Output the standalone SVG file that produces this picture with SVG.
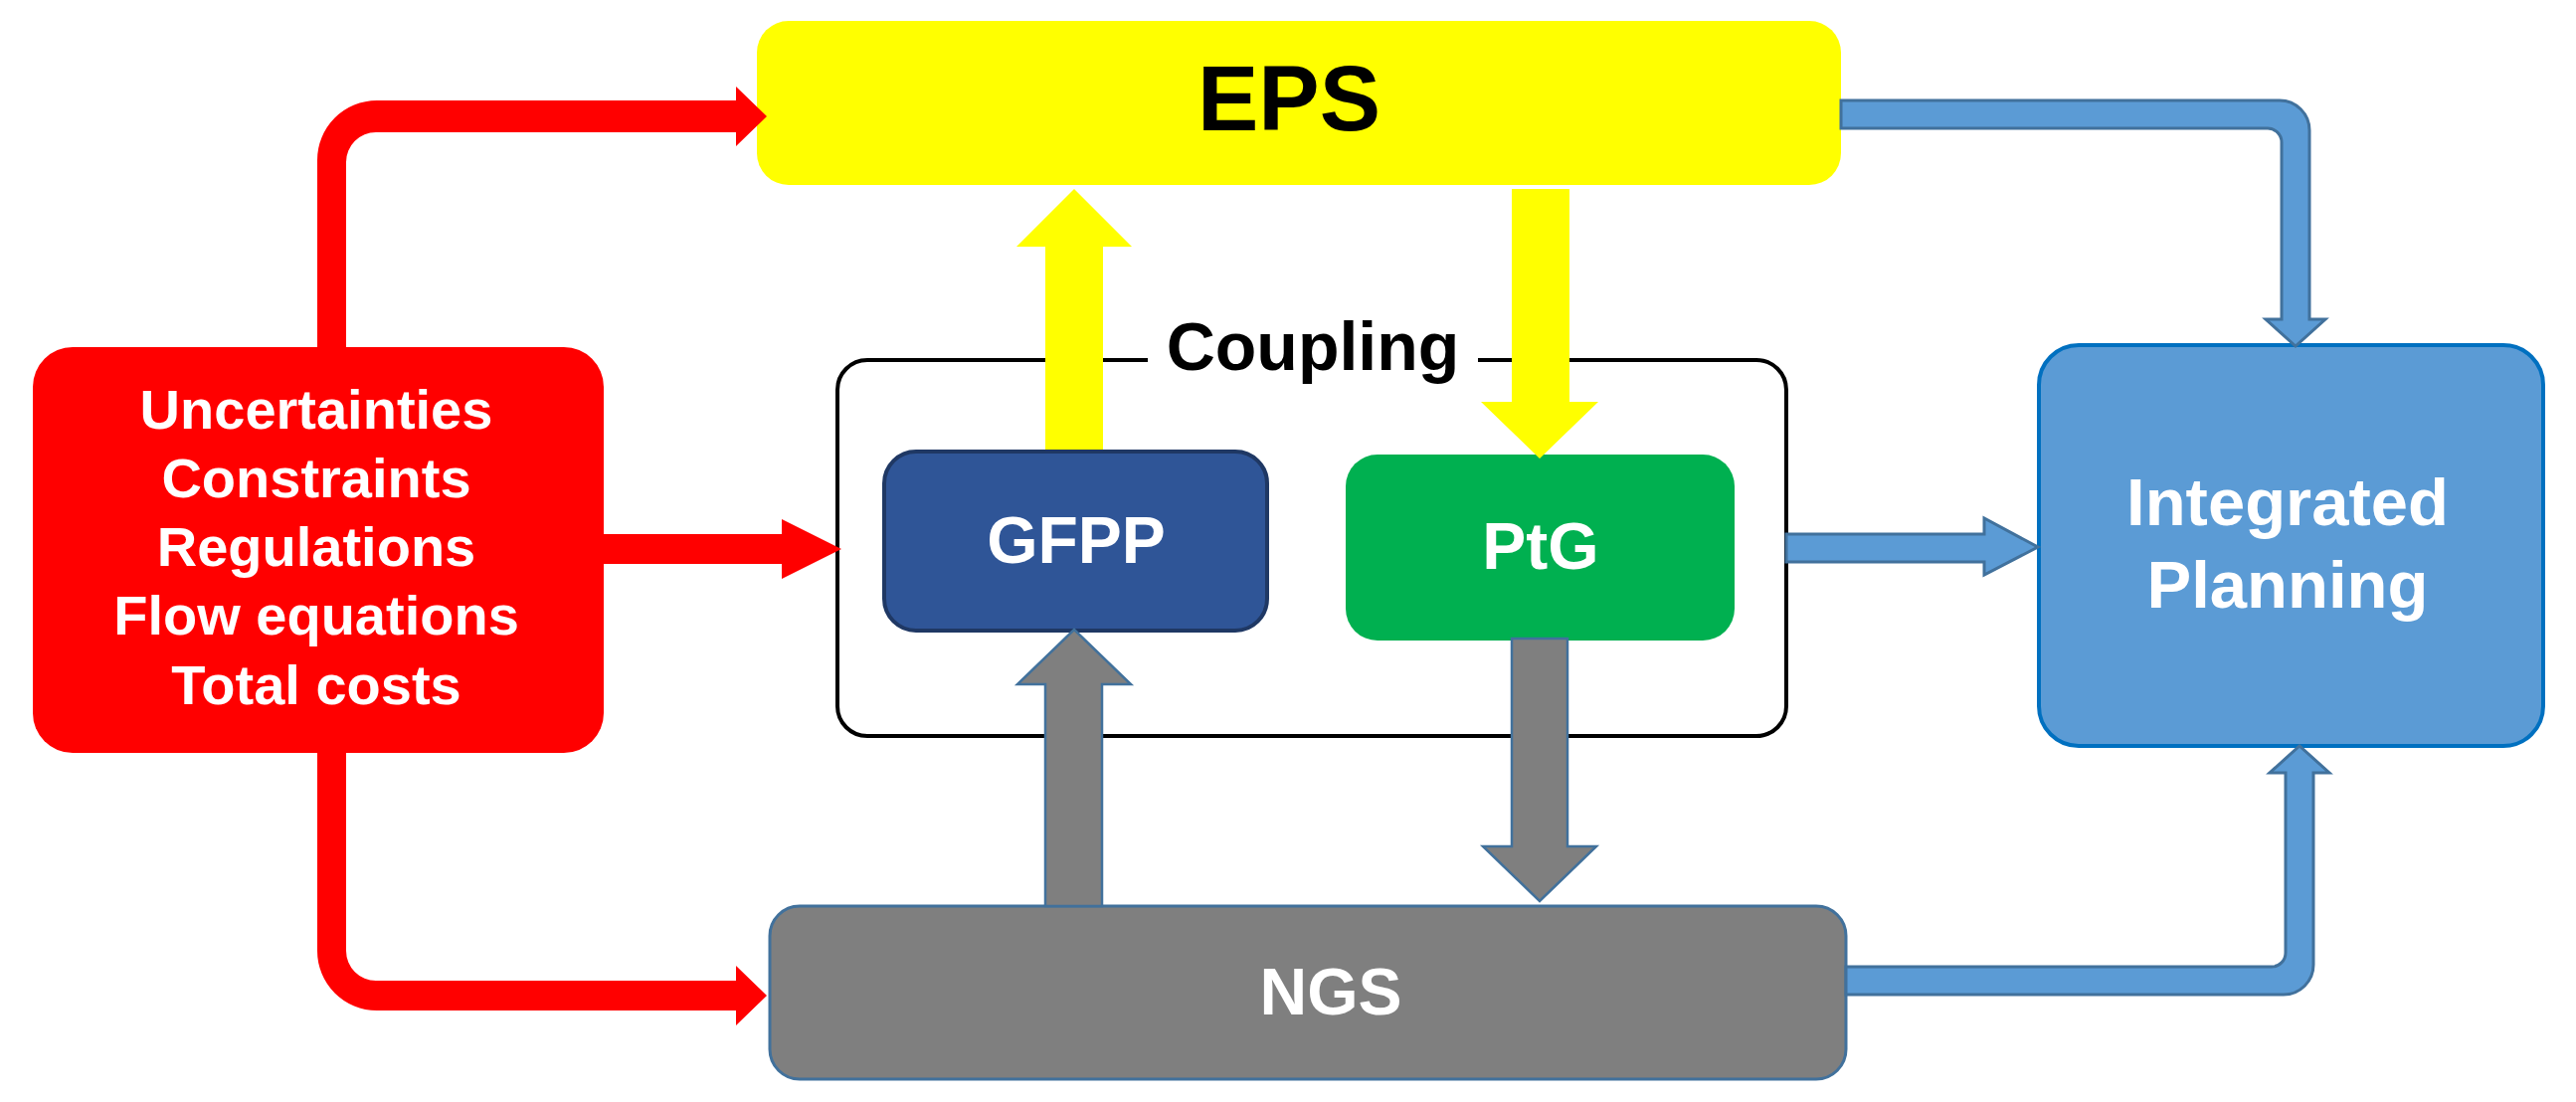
<svg xmlns="http://www.w3.org/2000/svg" width="2590" height="1108" viewBox="0 0 2590 1108">
<style>
text{font-family:"Liberation Sans",Arial,sans-serif;font-weight:bold;text-anchor:middle}
.w{fill:#fff}
.red{fill:#FF0000}
.yel{fill:#FFFF00}
.gry{fill:#7F7F7F;stroke:#41719C;stroke-width:2.5}
.blu{fill:#5B9BD5;stroke:#41719C;stroke-width:3}
</style>
<rect width="2590" height="1108" fill="#fff"/>
<g id="EPS"><rect x="761" y="21" width="1090" height="165" rx="32" fill="#FFFF00"/><text x="1296" y="131" font-size="92" fill="#000">EPS</text></g>
<g id="inputs"><rect x="33" y="349" width="574" height="408" rx="40" fill="#FF0000"/>
<text class="w" x="318" y="431" font-size="56">Uncertainties</text>
<text class="w" x="318" y="500" font-size="56">Constraints</text>
<text class="w" x="318" y="569" font-size="56">Regulations</text>
<text class="w" x="318" y="638" font-size="56">Flow equations</text>
<text class="w" x="318" y="708" font-size="56">Total costs</text></g>
<g id="coupling"><path d="M1154,362 H872 A30,30 0 0 0 842,392 V710 A30,30 0 0 0 872,740 H1766 A30,30 0 0 0 1796,710 V392 A30,30 0 0 0 1766,362 H1486" fill="none" stroke="#000" stroke-width="4"/><text x="1320" y="372" font-size="68" fill="#000">Coupling</text></g>
<g id="GFPP"><rect x="889" y="454" width="385" height="180" rx="32" fill="#2F5597" stroke="#1F3864" stroke-width="4"/><text class="w" x="1082" y="566" font-size="66">GFPP</text></g>
<g id="PtG"><rect x="1353" y="457" width="391" height="187" rx="32" fill="#00B050"/><text class="w" x="1549" y="572" font-size="66">PtG</text></g>
<g id="NGS"><rect x="774" y="911" width="1082" height="174" rx="30" fill="#7F7F7F" stroke="#41719C" stroke-width="3"/><text class="w" x="1338" y="1020" font-size="66">NGS</text></g>
<g id="IP"><rect x="2050" y="347" width="507" height="403" rx="40" fill="#5B9BD5" stroke="#0070C0" stroke-width="4"/><text class="w" x="2300" y="528" font-size="67">Integrated</text><text class="w" x="2300" y="611" font-size="67">Planning</text></g>
<g id="connectors">
<path class="red" d="M319,349 V161 A60,60 0 0 1 379,101 H740 V87 L771,117 L740,147 V133 H378 A30,30 0 0 0 348,163 V349 Z"/>
<path class="red" d="M319,757 V956 A60,60 0 0 0 379,1016 H740 V1031 L771,1001 L740,971 V986 H378 A30,30 0 0 1 348,956 V757 Z"/>
<path class="red" d="M607,537 H786 V522 L846,552 L786,582 V567 H607 Z"/>
<path class="yel" d="M1051,452 V248 H1022 L1080,190 L1138,248 H1109 V452 Z"/>
<path class="yel" d="M1520,190 V404 H1489 L1548,461 L1607,404 H1578 V190 Z"/>
<path class="gry" d="M1051,911 V688 H1023 L1080,633 L1137,688 H1108 V911 Z"/>
<path class="gry" d="M1520,642 V851 H1491 L1548,906 L1605,851 H1576 V642 Z"/>
<path class="blu" d="M1851,101 H2292 A30,30 0 0 1 2322,131 V321 H2338 L2308,348 L2278,321 H2294 V143 A14,14 0 0 0 2280,129 H1851 Z"/>
<path class="blu" d="M1856,972 H2284 A14,14 0 0 0 2298,958 V777 H2282 L2312,750 L2342,777 H2326 V970 A30,30 0 0 1 2296,1000 H1856 Z"/>
<path class="blu" d="M1796,537 H1995 V521 L2049,550 L1995,578 V565 H1796 Z"/>
</g>
</svg>
